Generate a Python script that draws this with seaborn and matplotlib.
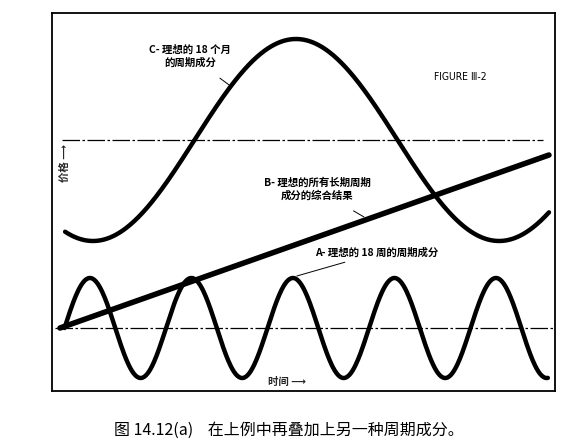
import numpy as np
import matplotlib
matplotlib.use("Agg")
import matplotlib.pyplot as plt
import seaborn as sns

# cycle components (time in weeks, price in arbitrary units)
A_PERIOD = 18.0          # 18-week cycle
A_AMP = 1.0
A_ZERO_T = 0.8           # first upward zero crossing
A_SPAN = [0.8, 86.5]

C_PERIOD = 72.0          # 18-month cycle
C_AMP = 2.02
C_CENTER = 3.76
C_TROUGH_T = 5.85
C_SPAN = [0.9, 86.7]

B_T = [0.0, 86.7]        # sum of all longer cycles: straight rising line
B_Y = [0.0, 3.46]

UPPER_REF_T = [0.35, 85.6]
LOWER_REF_T = [-0.9, 87.4]

sns.set_theme(style="white")
plt.rcParams['font.family'] = ['Noto Sans CJK SC', 'DejaVu Sans']

fig = plt.figure(figsize=(5.69, 4.47), dpi=100)
ax = fig.add_axes([52 / 569, 1 - 391 / 447, 503 / 569, 378 / 447])

ta = np.linspace(A_SPAN[0], A_SPAN[1], 600)
ya = A_AMP * np.sin(2 * np.pi * (ta - A_ZERO_T) / A_PERIOD)
tc = np.linspace(C_SPAN[0], C_SPAN[1], 600)
yc = C_CENTER - C_AMP * np.cos(2 * np.pi * (tc - C_TROUGH_T) / C_PERIOD)

# dash-dot reference lines (cycle mid-lines)
ref = (0, (14, 2, 2, 2))
ax.plot(UPPER_REF_T, [C_CENTER, C_CENTER], color='black', lw=0.9, ls=ref)
ax.plot(LOWER_REF_T, [0, 0], color='black', lw=0.9, ls=ref)

sns.lineplot(x=tc, y=yc, ax=ax, color='black', lw=3.2, sort=False)
sns.lineplot(x=ta, y=ya, ax=ax, color='black', lw=3.2, sort=False)
sns.lineplot(x=B_T, y=B_Y, ax=ax, color='black', lw=4.0, sort=False,
             solid_capstyle='round')

ax.set_xlim(-1.42, 87.77)
ax.set_ylim(-1.26, 6.3)
ax.set_xticks([])
ax.set_yticks([])
ax.set_xlabel('')
ax.set_ylabel('')
for s in ax.spines.values():
    s.set_color('black')
    s.set_linewidth(1.3)

lab = dict(fontsize=7.5, fontweight='bold', color='black', ha='center', va='center')
ax.annotate('C- 理想的 18 个月\n的周期成分', xy=(30.0, 4.86), xytext=(23.0, 5.44),
            arrowprops=dict(arrowstyle='-', color='black', lw=0.7,
                            shrinkA=9, shrinkB=0), linespacing=1.3, **lab)
ax.annotate('B- 理想的所有长期周期\n成分的综合结果', xy=(53.9, 2.22), xytext=(45.6, 2.77),
            arrowprops=dict(arrowstyle='-', color='black', lw=0.7,
                            shrinkA=9, shrinkB=0), linespacing=1.3, **lab)
ax.annotate('A- 理想的 18 周的周期成分', xy=(42.0, 1.04), xytext=(56.2, 1.5),
            arrowprops=dict(arrowstyle='-', color='black', lw=0.7,
                            shrinkA=2, shrinkB=0), **lab)

ax.text(70.9, 5.02, 'FIGURE Ⅲ-2', fontsize=7.5, color='black', ha='center',
        va='center', family=['DejaVu Sans'], fontstretch='condensed')
ax.text(40.2, -1.08, '时间 ⟶', fontsize=7.5, fontweight='bold', ha='center',
        va='center', family=['Noto Sans CJK SC', 'DejaVu Sans'])
ax.text(0.9, 3.3, '价格 ⟶', fontsize=7.5, fontweight='bold', ha='center',
        va='center', rotation=90, family=['Noto Sans CJK SC', 'DejaVu Sans'])

fig.text(289 / 569, 1 - 430 / 447, '图 14.12(a)    在上例中再叠加上另一种周期成分。',
         fontsize=11.5, ha='center', va='center', color='black')

fig.savefig('out.png', dpi=100)
